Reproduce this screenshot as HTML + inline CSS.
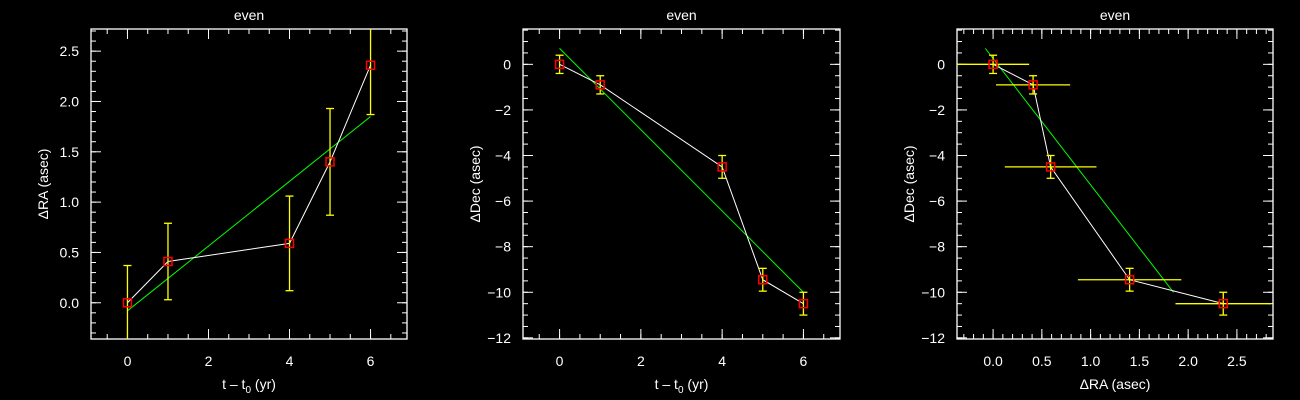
<!DOCTYPE html>
<html><head><meta charset="utf-8"><style>
html,body{margin:0;padding:0;background:#000;}
svg{display:block;}
text{font-family:"Liberation Sans",sans-serif;fill:#fff;font-size:14px;}
</style></head><body>
<svg id="chart" width="1300" height="400" viewBox="0 0 1300 400" xmlns="http://www.w3.org/2000/svg"></svg>
<script>
const epochs = [0, 1, 4, 5, 6];
const raValues = [0, 0.41, 0.59, 1.40, 2.36];
const raErrors = [0.37, 0.38, 0.47, 0.53, 0.49];
const decValues = [0, -0.9, -4.5, -9.45, -10.5];
const decErrors = [0.4, 0.4, 0.5, 0.5, 0.5];
const raFit = [-0.08, 1.85];
const decFit = [0.7, -10.0];
const fitEpochs = [0, 6];
const timeTicks = [0, 2, 4, 6];
const raTicks = [0.0, 0.5, 1.0, 1.5, 2.0, 2.5];
const decTicks = [0, -2, -4, -6, -8, -10, -12];

const NS = "http://www.w3.org/2000/svg";
const svg = document.getElementById("chart");
function mk(tag, attrs, parent) {
  const e = document.createElementNS(NS, tag);
  for (const k in attrs) e.setAttribute(k, attrs[k]);
  (parent || svg).appendChild(e);
  return e;
}

function panel(cfg) {
  const g = mk("g", {});
  
  
  const {x0, x1, y0, y1} = cfg.box;
  const sx = v => x0 + (v - cfg.xr[0]) / (cfg.xr[1] - cfg.xr[0]) * (x1 - x0);
  const sy = v => y1 - (v - cfg.yr[0]) / (cfg.yr[1] - cfg.yr[0]) * (y1 - y0);
  // frame
  const fr = mk("rect", {x: x0, y: y0, width: x1 - x0, height: y1 - y0, fill: "none", stroke: "#fff", "stroke-width": 1.3}, g);
  
  
  // minor ticks
  const tk = (v, major, axis) => {
    const L = major ? 10 : 5;
    if (axis === "x") {
      const px = sx(v);
      mk("line", {x1: px, x2: px, y1: y1, y2: y1 - L, stroke: "#fff"}, g);
      mk("line", {x1: px, x2: px, y1: y0, y2: y0 + L, stroke: "#fff"}, g);
    } else {
      const py = sy(v);
      mk("line", {x1: x0, x2: x0 + L, y1: py, y2: py, stroke: "#fff"}, g);
      mk("line", {x1: x1, x2: x1 - L, y1: py, y2: py, stroke: "#fff"}, g);
    }
  };
  for (let v = Math.ceil(cfg.xr[0] / cfg.xminor) * cfg.xminor; v <= cfg.xr[1] + 1e-9; v += cfg.xminor) tk(v, false, "x");
  for (let v = Math.ceil(cfg.yr[0] / cfg.yminor) * cfg.yminor; v <= cfg.yr[1] + 1e-9; v += cfg.yminor) tk(v, false, "y");
  cfg.xticks.forEach(v => {
    tk(v, true, "x");
    const t = mk("text", {x: sx(v), y: y1 + 27, "text-anchor": "middle"}, g);
    
    
    t.textContent = cfg.xfmt(v);
  });
  cfg.yticks.forEach(v => {
    if (v < cfg.yr[0] - 1e-9) return;
    tk(v, true, "y");
    const t = mk("text", {x: x0 - 12, y: sy(v) + 5, "text-anchor": "end"}, g);
    
    
    t.textContent = cfg.yfmt(v);
  });
  // title
  const tt = mk("text", {x: (x0 + x1) / 2, y: 20, "text-anchor": "middle", "font-size": 15}, g);
  
  
  tt.textContent = "even";
  const xl = mk("text", {x: (x0 + x1) / 2, y: y1 + 50, "text-anchor": "middle", "font-size": 15}, g);
  
  
  xl.innerHTML = cfg.xlabel;
  const yl = mk("text", {x: 0, y: 0, "text-anchor": "middle", "font-size": 15, transform: `translate(${x0 - 43},${(y0 + y1) / 2}) rotate(-90)`}, g);
  
  
  yl.textContent = cfg.ylabel;
  // clip
  const cid = cfg.name + "-clip";
  const cp = mk("clipPath", {id: cid}, g);
  mk("rect", {x: x0, y: y0, width: x1 - x0, height: y1 - y0}, cp);
  const dg = mk("g", {"clip-path": `url(#${cid})`}, g);
  // fit line
  const fl = mk("line", {x1: sx(cfg.fitX[0]), y1: sy(cfg.fitY[0]), x2: sx(cfg.fitX[1]), y2: sy(cfg.fitY[1]), stroke: "#00ff00", "stroke-width": 1}, dg);
  
  
  // connecting line
  const pl = mk("polyline", {points: cfg.xs.map((v, i) => sx(v) + "," + sy(cfg.ys[i])).join(" "), fill: "none", stroke: "#fff", "stroke-width": 1}, dg);
  
  
  // error bars
  cfg.xs.forEach((v, i) => {
    const px = sx(v), py = sy(cfg.ys[i]);
    if (cfg.yerr) {
      const e = cfg.yerr[i], a = sy(cfg.ys[i] + e), b = sy(cfg.ys[i] - e);
      const eg = mk("g", {stroke: "#ffff00", "stroke-width": 1.3}, dg);
      
      
      mk("line", {x1: px, x2: px, y1: a, y2: b}, eg);
      mk("line", {x1: px - 4, x2: px + 4, y1: a, y2: a}, eg);
      mk("line", {x1: px - 4, x2: px + 4, y1: b, y2: b}, eg);
    }
    if (cfg.xerr) {
      const e = cfg.xerr[i];
      const hl = mk("line", {x1: sx(v - e), x2: sx(v + e), y1: py, y2: py, stroke: "#ffff00", "stroke-width": 1.3}, dg);
      
      
    }
  });
  cfg.xs.forEach((v, i) => {
    const m = mk("rect", {x: sx(v) - 4, y: sy(cfg.ys[i]) - 4, width: 8, height: 8, fill: "none", stroke: "#ff0000", "stroke-width": 1.5}, dg);
    
    
  });
}

const tlab = 't &#8211; t<tspan font-size="10" dy="4">0</tspan><tspan dy="-4"> (yr)</tspan>';
panel({name: "ra-vs-time", box: {x0: 91, x1: 407, y0: 29, y1: 339}, xr: [-0.9, 6.9], yr: [-0.36, 2.72],
  xminor: 0.5, yminor: 0.1, xticks: timeTicks, yticks: raTicks, xfmt: v => String(v), yfmt: v => v.toFixed(1),
  xlabel: tlab, ylabel: "\u0394RA (asec)", xs: epochs, ys: raValues, yerr: raErrors, fitX: fitEpochs, fitY: raFit});
panel({name: "dec-vs-time", box: {x0: 523, x1: 840, y0: 29, y1: 339}, xr: [-0.9, 6.9], yr: [-12.05, 1.55],
  xminor: 0.5, yminor: 0.5, xticks: timeTicks, yticks: decTicks, xfmt: v => String(v), yfmt: v => v === 0 ? "0" : "\u2212" + Math.abs(v),
  xlabel: tlab, ylabel: "\u0394Dec (asec)", xs: epochs, ys: decValues, yerr: decErrors, fitX: fitEpochs, fitY: decFit});
panel({name: "dec-vs-ra", box: {x0: 957, x1: 1273, y0: 29, y1: 339}, xr: [-0.37, 2.87], yr: [-12.05, 1.55],
  xminor: 0.1, yminor: 0.5, xticks: raTicks, yticks: decTicks, xfmt: v => v.toFixed(1), yfmt: v => v === 0 ? "0" : "\u2212" + Math.abs(v),
  xlabel: "\u0394RA (asec)", ylabel: "\u0394Dec (asec)", xs: raValues, ys: decValues, yerr: decErrors, xerr: raErrors, fitX: raFit, fitY: decFit});
</script>
</body></html>
